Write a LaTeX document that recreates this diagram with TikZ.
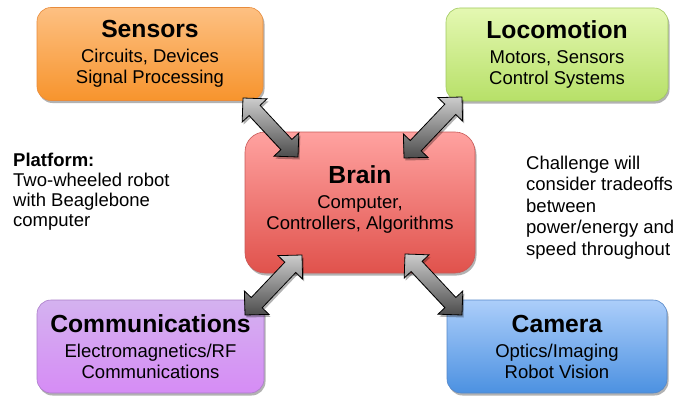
\documentclass[tikz,border=0pt]{standalone}
\usepackage{fontspec}
\setmainfont{Liberation Sans}
\usetikzlibrary{calc,shadows}

% box colours
\definecolor{sensTop}{RGB}{253,192,130}
\definecolor{sensBot}{RGB}{247,148,45}
\definecolor{sensLine}{RGB}{232,140,60}
\definecolor{locoTop}{RGB}{228,248,178}
\definecolor{locoBot}{RGB}{183,224,104}
\definecolor{locoLine}{RGB}{160,200,95}
\definecolor{brainTop}{RGB}{255,162,160}
\definecolor{brainBot}{RGB}{224,82,76}
\definecolor{brainLine}{RGB}{200,90,88}
\definecolor{commTop}{RGB}{212,178,240}
\definecolor{commBot}{RGB}{214,140,245}
\definecolor{commLine}{RGB}{170,125,200}
\definecolor{camTop}{RGB}{172,206,250}
\definecolor{camBot}{RGB}{76,145,225}
\definecolor{camLine}{RGB}{85,135,200}

\newcommand\boxtitle[1]{{\bfseries\fontsize{24.7}{25}\selectfont #1}\\[4pt]}

% thick double-headed arrow between two named coordinates
\newcommand\fatarrow[2]{%
  \path[fatbody] (#1)
    -- ($(#1)!17pt!(#2)!17pt!90:(#2)$)
    -- ($(#1)!17pt!(#2)!7.5pt!90:(#2)$)
    -- ($(#2)!17pt!(#1)!7.5pt!-90:(#1)$)
    -- ($(#2)!17pt!(#1)!17pt!-90:(#1)$)
    -- (#2)
    -- ($(#2)!17pt!(#1)!17pt!90:(#1)$)
    -- ($(#2)!17pt!(#1)!7.5pt!90:(#1)$)
    -- ($(#1)!17pt!(#2)!7.5pt!-90:(#2)$)
    -- ($(#1)!17pt!(#2)!17pt!-90:(#2)$)
    -- cycle;}

\begin{document}
\begin{tikzpicture}[x=1pt,y=-1pt,
  softshadow/.style={drop shadow={shadow xshift=1.5pt,shadow yshift=-2.5pt,opacity=0.3,fill=black}},
  box/.style={rounded corners=14pt, minimum height=93pt, align=center,
    inner sep=0pt, line width=0.6pt, softshadow,
    font=\fontsize{18.5}{21}\selectfont},
  fatbody/.style={draw=black, line width=0.8pt, line join=miter,
    top color=gray!40, bottom color=gray!60!black, softshadow},
  sidetext/.style={inner sep=0pt, anchor=base west},
]
\useasboundingbox (0,0) rectangle (677,396);

% subsystem boxes
\node[box, minimum width=226pt, top color=sensTop, bottom color=sensBot, draw=sensLine]
  (sensors) at (150,54) {\boxtitle{Sensors}Circuits, Devices\\Signal Processing};
\node[box, minimum width=222pt, top color=locoTop, bottom color=locoBot, draw=locoLine]
  (loco) at (557,54.5) {\boxtitle{Locomotion}Motors, Sensors\\Control Systems};
\node[box, minimum width=230pt, minimum height=141pt, rounded corners=20pt,
  top color=brainTop, bottom color=brainBot, draw=brainLine]
  (brain) at (360,202.5) {\boxtitle{Brain}Computer,\\Controllers, Algorithms\rule[-9pt]{0pt}{9pt}};
\node[box, minimum width=227pt, top color=commTop, bottom color=commBot, draw=commLine]
  (comm) at (150.5,346.5) {\boxtitle{Communications}Electromagnetics/RF\\Communications};
\node[box, minimum width=220pt, top color=camTop, bottom color=camBot, draw=camLine]
  (cam) at (557,346.5) {\boxtitle{Camera}Optics/Imaging\\Robot Vision};

% side notes
\node[sidetext] (platform) at (13,166) {\fontsize{18.5}{20.3}\selectfont
  \begin{tabular}[t]{@{}l@{}}\textbf{Platform:}\\Two-wheeled robot\\with Beaglebone\\computer\end{tabular}};
\node[sidetext] (challenge) at (526,169) {\fontsize{18.5}{21.6}\selectfont
  \begin{tabular}[t]{@{}l@{}}Challenge will\\consider tradeoffs\\between\\power/energy and\\speed throughout\end{tabular}};

% arrow end points at the box corners
\coordinate (tlA) at (243,98);
\coordinate (tlB) at (298,157);
\coordinate (trA) at (462,97);
\coordinate (trB) at (404,158);
\coordinate (blA) at (302,255);
\coordinate (blB) at (245,315);
\coordinate (brA) at (405,254);
\coordinate (brB) at (462,315);

\fatarrow{tlA}{tlB}
\fatarrow{trA}{trB}
\fatarrow{blA}{blB}
\fatarrow{brA}{brB}
\end{tikzpicture}
\end{document}
